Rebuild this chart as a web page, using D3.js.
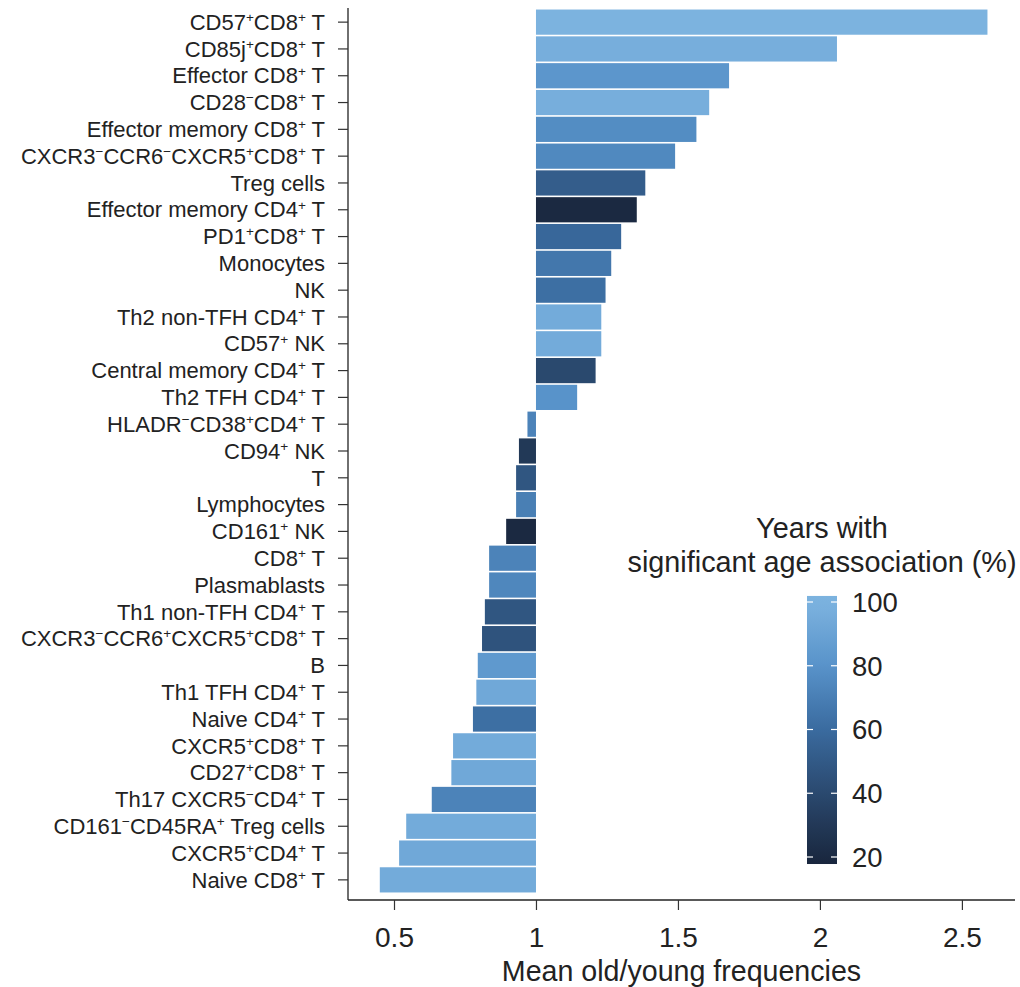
<!DOCTYPE html>
<html>
<head>
<meta charset="utf-8">
<script src="https://cdn.jsdelivr.net/npm/d3@7"></script>
<style>
  html, body { margin: 0; padding: 0; background: #fff; }
  svg { display: block; font-family: "Liberation Sans", Arial, Helvetica, sans-serif; }
</style>
</head>
<body>
<svg id="chart" width="1020" height="987"></svg>
<script>
// Cell populations, top to bottom. "^+" / "^-" mark superscript signs.
const cellTypes = [
  "CD57^+CD8^+ T",
  "CD85j^+CD8^+ T",
  "Effector CD8^+ T",
  "CD28^-CD8^+ T",
  "Effector memory CD8^+ T",
  "CXCR3^-CCR6^-CXCR5^+CD8^+ T",
  "Treg cells",
  "Effector memory CD4^+ T",
  "PD1^+CD8^+ T",
  "Monocytes",
  "NK",
  "Th2 non-TFH CD4^+ T",
  "CD57^+ NK",
  "Central memory CD4^+ T",
  "Th2 TFH CD4^+ T",
  "HLADR^-CD38^+CD4^+ T",
  "CD94^+ NK",
  "T",
  "Lymphocytes",
  "CD161^+ NK",
  "CD8^+ T",
  "Plasmablasts",
  "Th1 non-TFH CD4^+ T",
  "CXCR3^-CCR6^+CXCR5^+CD8^+ T",
  "B",
  "Th1 TFH CD4^+ T",
  "Naive CD4^+ T",
  "CXCR5^+CD8^+ T",
  "CD27^+CD8^+ T",
  "Th17 CXCR5^-CD4^+ T",
  "CD161^-CD45RA^+ Treg cells",
  "CXCR5^+CD4^+ T",
  "Naive CD8^+ T"
];

// Mean old/young frequency ratio per population
const meanRatio = [
  2.59, 2.06, 1.68, 1.61, 1.565, 1.49, 1.385, 1.355, 1.30, 1.265, 1.245,
  1.23, 1.23, 1.21, 1.145, 0.97, 0.94, 0.93, 0.93, 0.895, 0.835, 0.835,
  0.82, 0.81, 0.795, 0.79, 0.778, 0.708, 0.702, 0.633, 0.543, 0.518, 0.45
];

// Years with significant age association (%)
const yearsPct = [
  100, 97, 82, 97, 77, 75, 52, 20, 58, 66, 62,
  95, 95, 40, 80, 72, 30, 48, 70, 20, 72, 74,
  48, 46, 84, 93, 62, 95, 93, 72, 95, 93, 95
];

const xTicks = [0.5, 1, 1.5, 2, 2.5];
const xDomain = [0.338, 2.687];
const legendTicks = [20, 40, 60, 80, 100];
const legendExtent = [17.8, 101.9];
const colourStops = [18, 60, 80, 100];
const colourRange = ["#19263d", "#3a6b9f", "#5893ca", "#7cb3df"];

const svg = d3.select("#chart");

const plot = { left: 348, right: 1015, top: 8, bottom: 900 };

const x = d3.scaleLinear().domain(xDomain).range([plot.left, plot.right]);
const y = d3.scaleBand().domain(d3.range(cellTypes.length))
  .range([plot.top + 1, plot.bottom - 7]).paddingInner(0.06).paddingOuter(0.02);

const colour = d3.scaleLinear().domain(colourStops)
  .range(colourRange).interpolate(d3.interpolateLab).clamp(true);

// Bars grow from the ratio of 1
svg.append("g").selectAll("rect")
  .data(meanRatio)
  .join("rect")
  .attr("x", d => x(Math.min(d, 1)))
  .attr("width", d => Math.abs(x(d) - x(1)))
  .attr("y", (d, i) => y(i))
  .attr("height", y.bandwidth())
  .attr("fill", (d, i) => colour(yearsPct[i]));

// Write a label with superscript signs into a text node
function richLabel(textSel, str, size) {
  textSel.text(null).attr("dy", null);
  const parts = str.split(/(\^[+-])/).filter(s => s.length);
  const base = size * 0.35;      // vertical centring on the tick
  const lift = size * 0.36;      // superscript raise
  let raised = false;
  parts.forEach((p, k) => {
    const first = k === 0 ? base : 0;
    if (p[0] === "^") {
      textSel.append("tspan")
        .attr("font-size", size * 0.62)
        .attr("dy", first + (raised ? 0 : -lift))
        .text(p[1] === "+" ? "+" : "\u2212");
      raised = true;
    } else {
      textSel.append("tspan")
        .attr("font-size", size)
        .attr("dy", first + (raised ? lift : 0))
        .text(p);
      raised = false;
    }
  });
}

// Y axis
const yAxis = svg.append("g")
  .attr("transform", `translate(${plot.left},0)`)
  .call(d3.axisLeft(y).tickSize(10).tickPadding(13).tickSizeOuter(0));
yAxis.select(".domain").attr("d", `M0,${plot.top}V${plot.bottom}`)
  .attr("stroke", "#222").attr("stroke-width", 1.3);
yAxis.selectAll(".tick line").attr("stroke", "#333").attr("stroke-width", 1.2);
yAxis.selectAll(".tick text")
  .attr("fill", "#222")
  .attr("font-size", 22)
  .each(function (i) { richLabel(d3.select(this), cellTypes[i], 22); });

// X axis
const xAxis = svg.append("g")
  .attr("transform", `translate(0,${plot.bottom})`)
  .call(d3.axisBottom(x).tickValues(xTicks).tickFormat(d3.format("~g"))
    .tickSize(10).tickPadding(17).tickSizeOuter(0));
xAxis.select(".domain").attr("d", `M${plot.left},0H${plot.right}`)
  .attr("stroke", "#222").attr("stroke-width", 1.3);
xAxis.selectAll(".tick line").attr("stroke", "#333").attr("stroke-width", 1.2);
xAxis.selectAll(".tick text").attr("font-size", 28).attr("fill", "#222");

svg.append("text")
  .attr("x", (x(xDomain[0]) + x(xDomain[1])) / 2)
  .attr("y", 981)
  .attr("text-anchor", "middle")
  .attr("font-size", 28.6)
  .attr("fill", "#222")
  .text("Mean old/young frequencies");

// Colour bar legend
const legend = svg.append("g");
const ly = d3.scaleLinear().domain([20, 100]).range([857, 602]);
const barX = 807, barW = 30;

legend.append("text")
  .attr("x", 822).attr("y", 538)
  .attr("text-anchor", "middle").attr("font-size", 28.8).attr("fill", "#222")
  .text("Years with");
legend.append("text")
  .attr("x", 822).attr("y", 572)
  .attr("text-anchor", "middle").attr("font-size", 28.8).attr("fill", "#222")
  .text("significant age association (%)");

const grad = svg.append("defs").append("linearGradient")
  .attr("id", "yearsGrad").attr("x1", 0).attr("x2", 0).attr("y1", 1).attr("y2", 0);
const nStops = 20;
d3.range(nStops + 1).forEach(k => {
  const v = legendExtent[0] + (legendExtent[1] - legendExtent[0]) * k / nStops;
  grad.append("stop").attr("offset", k / nStops).attr("stop-color", colour(v));
});

legend.append("rect")
  .attr("x", barX).attr("width", barW)
  .attr("y", ly(legendExtent[1]))
  .attr("height", ly(legendExtent[0]) - ly(legendExtent[1]))
  .attr("fill", "url(#yearsGrad)");

legend.selectAll("line.tl")
  .data(legendTicks)
  .join("line")
  .attr("class", "tl")
  .attr("x1", barX).attr("x2", barX + 6)
  .attr("y1", d => ly(d)).attr("y2", d => ly(d))
  .attr("stroke", "#fff").attr("stroke-width", 1.2);
legend.selectAll("line.tr")
  .data(legendTicks)
  .join("line")
  .attr("class", "tr")
  .attr("x1", barX + barW - 6).attr("x2", barX + barW)
  .attr("y1", d => ly(d)).attr("y2", d => ly(d))
  .attr("stroke", "#fff").attr("stroke-width", 1.2);

legend.selectAll("text.lab")
  .data(legendTicks)
  .join("text")
  .attr("class", "lab")
  .attr("x", barX + barW + 15)
  .attr("y", d => ly(d))
  .attr("dy", "0.36em")
  .attr("font-size", 27.5)
  .attr("fill", "#222")
  .text(d => d);
</script>
</body>
</html>
